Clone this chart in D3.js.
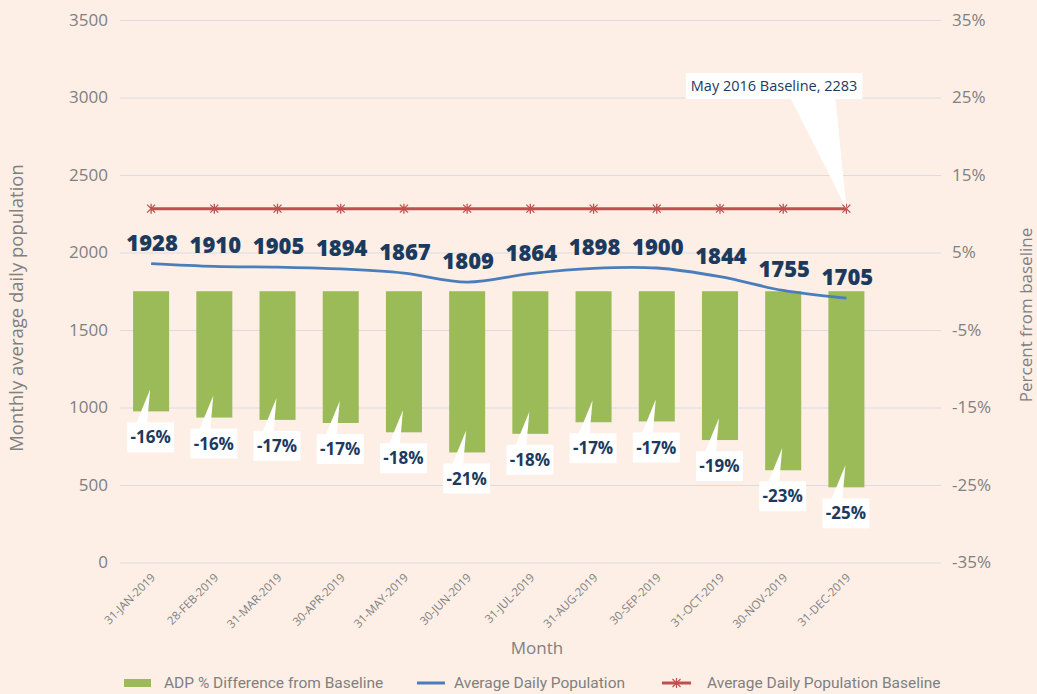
<!DOCTYPE html>
<html>
<head>
<meta charset="utf-8">
<script src="https://cdn.jsdelivr.net/npm/d3@7"></script>
<style>
  body { margin: 0; background: #fdefe6; }
  svg { display: block; background: #fdefe6; font-family: "Open Sans", sans-serif; }
</style>
</head>
<body>
<svg width="1037" height="694"></svg>
<script>
var months = ["31-JAN-2019", "28-FEB-2019", "31-MAR-2019", "30-APR-2019", "31-MAY-2019", "30-JUN-2019",
  "31-JUL-2019", "31-AUG-2019", "30-SEP-2019", "31-OCT-2019", "30-NOV-2019", "31-DEC-2019"];
var adp = [1928, 1910, 1905, 1894, 1867, 1809, 1864, 1898, 1900, 1844, 1755, 1705];
var pctDiff = [-15.5, -16.3, -16.6, -17.0, -18.2, -20.8, -18.4, -16.9, -16.8, -19.2, -23.1, -25.3];
var pctLabels = ["-16%", "-16%", "-17%", "-17%", "-18%", "-21%", "-18%", "-17%", "-17%", "-19%", "-23%", "-25%"];
var baseline = 2283;
var leftTicks = [0, 500, 1000, 1500, 2000, 2500, 3000, 3500];
var rightTicks = [-35, -25, -15, -5, 5, 15, 25, 35];

var svg = d3.select("svg");
var navy = "#1c3a5e", grey = "#808080";
var plotLeft = 120, plotRight = 941, plotTop = 20, plotBottom = 562.5;

var x = d3.scaleBand().domain(months).range([119.5, 878]).paddingInner(0.43).paddingOuter(0.215);
var yL = d3.scaleLinear().domain([0, 3500]).range([plotBottom, plotTop]);
var yR = d3.scaleLinear().domain([-35, 35]).range([plotBottom, plotTop]);
var cx = function(i) { return x(months[i]) + x.bandwidth() / 2; };

// gridlines + left axis
var gl = svg.append("g").attr("transform", "translate(" + plotLeft + ",0)")
  .call(d3.axisLeft(yL).tickValues(leftTicks).tickFormat(d3.format("d"))
    .tickSize(-(plotRight - plotLeft)).tickPadding(12));
gl.select(".domain").remove();
gl.selectAll("line").attr("stroke", "#dcdbe0").attr("stroke-width", 1);
gl.selectAll("text").attr("fill", grey).style("font-size", "17px").style("font-family", "Open Sans");

var gr = svg.append("g").attr("transform", "translate(" + plotRight + ",0)")
  .call(d3.axisRight(yR).tickValues(rightTicks).tickSize(0).tickPadding(11).tickFormat(function(d) { return d + "%"; }));
gr.select(".domain").remove();
gr.selectAll("text").attr("fill", grey).style("font-size", "17px").style("font-family", "Open Sans");

// x axis
var gx = svg.append("g").attr("transform", "translate(0," + plotBottom + ")")
  .call(d3.axisBottom(x).tickSize(0));
gx.select(".domain").remove();
gx.selectAll("text")
  .attr("fill", grey)
  .attr("y", 0).attr("dy", "0.35em")
  .attr("text-anchor", "end")
  .attr("transform", "translate(2,13) rotate(-45)")
  .style("font-size", "11.5px").style("font-family", "Open Sans");

// bars
svg.append("g").selectAll("rect").data(pctDiff).enter().append("rect")
  .attr("x", function(d, i) { return x(months[i]); })
  .attr("width", x.bandwidth())
  .attr("y", yR(0))
  .attr("height", function(d) { return yR(d) - yR(0); })
  .attr("fill", "#9bbb59");

// baseline line with markers
var baseLine = d3.line().x(function(d, i) { return cx(i); }).y(function() { return yL(baseline); });
svg.append("path").datum(months).attr("d", baseLine)
  .attr("fill", "none").attr("stroke", "#c0504d").attr("stroke-width", 3);
var mk = svg.append("g").selectAll("g").data(months).enter().append("g")
  .attr("transform", function(d, i) { return "translate(" + cx(i) + "," + yL(baseline) + ")"; });
mk.append("path").attr("d", "M-4,-4L4,4M-4,4L4,-4M0,-5L0,5")
  .attr("stroke", "#c0504d").attr("stroke-width", 1.3).attr("fill", "none");

// ADP line
var adpLine = d3.line().curve(d3.curveCatmullRom)
  .x(function(d, i) { return cx(i); }).y(function(d) { return yL(d); });
svg.append("path").datum(adp).attr("d", adpLine)
  .attr("fill", "none").attr("stroke", "#4a7ebb").attr("stroke-width", 2.8);

// ADP value labels
svg.append("g").selectAll("text").data(adp).enter().append("text")
  .attr("x", function(d, i) { return cx(i) + 1; })
  .attr("y", function(d) { return yL(d) - 13; })
  .attr("text-anchor", "middle")
  .attr("fill", navy)
  .style("font-size", "22px").style("font-weight", "800")
  .text(function(d) { return d; });

// percent callouts
var pc = svg.append("g").selectAll("g").data(pctDiff).enter().append("g");
pc.each(function(d, i) {
  var g = d3.select(this);
  var bx = cx(i) - 24, by = yR(d) + 11, bw = 47, bh = 30;
  var tipX = cx(i) - 1, tipY = yR(d) - 22;
  g.append("path")
    .attr("d", "M" + (bx + 9) + "," + (by + 1) + "L" + tipX + "," + tipY + "L" + (bx + 20) + "," + (by + 1) + "Z")
    .attr("fill", "#fff");
  g.append("rect").attr("x", bx).attr("y", by).attr("width", bw).attr("height", bh).attr("fill", "#fff");
  g.append("text").attr("x", bx + bw / 2).attr("y", by + bh / 2).attr("dy", "0.36em")
    .attr("text-anchor", "middle").attr("fill", navy)
    .style("font-size", "17px").style("font-weight", "700")
    .text(pctLabels[i]);
});

// baseline callout
var tx = cx(11), ty = yL(baseline);
var cg = svg.append("g");
var ct = cg.append("text").attr("fill", navy).style("font-size", "14.5px")
  .text("May 2016 Baseline, " + baseline);
var tw = ct.node().getComputedTextLength();
var cbw = tw + 10, cbh = 26, cbx = tx + 16 - cbw, cby = 73;
cg.insert("path", "text")
  .attr("d", "M" + (tx - 56) + "," + (cby + cbh - 1) + "L" + tx + "," + ty + "L" + (tx - 11) + "," + (cby + cbh - 1) + "Z")
  .attr("fill", "#fff");
cg.insert("rect", "text").attr("x", cbx).attr("y", cby).attr("width", cbw).attr("height", cbh).attr("fill", "#fff");
ct.attr("x", cbx + 5).attr("y", cby + cbh / 2).attr("dy", "0.36em");

// axis titles
svg.append("text").attr("transform", "translate(23,308) rotate(-90)")
  .attr("text-anchor", "middle").attr("fill", grey).style("font-size", "18.5px")
  .text("Monthly average daily population");
svg.append("text").attr("transform", "translate(1032,315) rotate(-90)")
  .attr("text-anchor", "middle").attr("fill", grey).style("font-size", "17px")
  .text("Percent from baseline");
svg.append("text").attr("x", 537).attr("y", 654)
  .attr("text-anchor", "middle").attr("fill", grey).style("font-size", "17px")
  .text("Month");

// legend
var lg = svg.append("g").style("font-family", "Roboto").style("font-size", "15.5px");
lg.append("rect").attr("x", 124).attr("y", 679).attr("width", 27).attr("height", 8).attr("fill", "#9bbb59");
lg.append("text").attr("x", 164).attr("y", 683).attr("dy", "0.35em").attr("fill", grey).text("ADP % Difference from Baseline");
lg.append("line").attr("x1", 417).attr("x2", 445).attr("y1", 683).attr("y2", 683).attr("stroke", "#4a7ebb").attr("stroke-width", 3);
lg.append("text").attr("x", 454).attr("y", 683).attr("dy", "0.35em").attr("fill", grey).text("Average Daily Population");
lg.append("line").attr("x1", 662).attr("x2", 691).attr("y1", 683).attr("y2", 683).attr("stroke", "#c0504d").attr("stroke-width", 3);
lg.append("path").attr("d", "M672.5,679L680.5,687M672.5,687L680.5,679M676.5,678L676.5,688")
  .attr("stroke", "#c0504d").attr("stroke-width", 1.2);
lg.append("text").attr("x", 707).attr("y", 683).attr("dy", "0.35em").attr("fill", grey).text("Average Daily Population Baseline");
</script>
</body>
</html>
